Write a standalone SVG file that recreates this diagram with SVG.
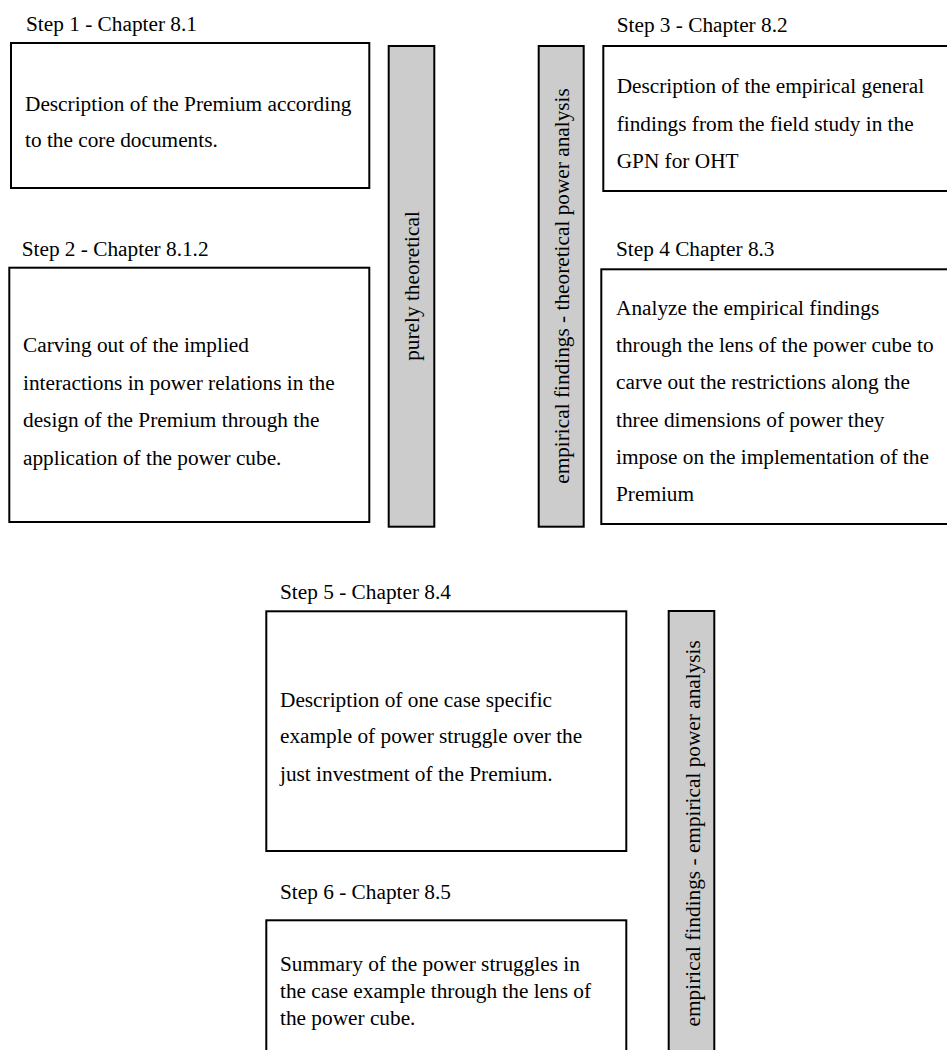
<svg xmlns="http://www.w3.org/2000/svg" width="947" height="1050" viewBox="0 0 947 1050">
<style>
.box{fill:#fff;stroke:#000;stroke-width:2}
.bar{fill:#cccccc;stroke:#000;stroke-width:2}
text{font-family:"Liberation Serif","Times New Roman",serif;font-size:21.3px;fill:#000}
.v{text-anchor:middle}
</style>
<rect width="947" height="1050" fill="#fff"/>
<g id="step1">
<text x="26" y="30.7">Step 1 - Chapter 8.1</text>
<rect class="box" x="11" y="43" width="358.3" height="145"/>
<text x="25" y="111">Description of the Premium according</text>
<text x="25" y="146.7">to the core documents.</text>
</g>
<g id="step2">
<text x="21.7" y="256">Step 2 - Chapter 8.1.2</text>
<rect class="box" x="9.3" y="267.7" width="360" height="254.3"/>
<text x="23" y="352">Carving out of the implied</text>
<text x="23" y="389.5">interactions in power relations in the</text>
<text x="23" y="427">design of the Premium through the</text>
<text x="23" y="464.5">application of the power cube.</text>
</g>
<g id="bar1">
<rect class="bar" x="388.7" y="46" width="45.6" height="480.7"/>
<text class="v" transform="translate(419 286) rotate(-90)">purely theoretical</text>
</g>
<g id="bar2">
<rect class="bar" x="538.7" y="46" width="45" height="480.7"/>
<text class="v" transform="translate(569 286) rotate(-90)">empirical findings - theoretical power analysis</text>
</g>
<g id="step3">
<text x="616.7" y="32.3">Step 3 - Chapter 8.2</text>
<rect class="box" x="603.3" y="46" width="360" height="145"/>
<text x="616.7" y="93.3">Description of the empirical general</text>
<text x="616.7" y="130.7">findings from the field study in the</text>
<text x="616.7" y="168">GPN for OHT</text>
</g>
<g id="step4">
<text x="616" y="256">Step 4 Chapter 8.3</text>
<rect class="box" x="601.3" y="269.3" width="360" height="254.7"/>
<text x="616" y="315">Analyze the empirical findings</text>
<text x="616" y="352">through the lens of the power cube to</text>
<text x="616" y="389.3">carve out the restrictions along the</text>
<text x="616" y="426.7">three dimensions of power they</text>
<text x="616" y="463.7">impose on the implementation of the</text>
<text x="616" y="500.7">Premium</text>
</g>
<g id="step5">
<text x="280" y="599">Step 5 - Chapter 8.4</text>
<rect class="box" x="266.3" y="611.3" width="360" height="239.7"/>
<text x="280" y="706.7">Description of one case specific</text>
<text x="280" y="743.3">example of power struggle over the</text>
<text x="280" y="781">just investment of the Premium.</text>
</g>
<g id="step6">
<text x="280" y="899">Step 6 - Chapter 8.5</text>
<rect class="box" x="266.3" y="920.3" width="360" height="150"/>
<text x="280" y="971">Summary of the power struggles in</text>
<text x="280" y="998">the case example through the lens of</text>
<text x="280" y="1025">the power cube.</text>
</g>
<g id="bar3">
<rect class="bar" x="668.7" y="611" width="45.6" height="460"/>
<text class="v" transform="translate(700 833.3) rotate(-90)">empirical findings - empirical power analysis</text>
</g>
<g id="connectors"></g>
</svg>
